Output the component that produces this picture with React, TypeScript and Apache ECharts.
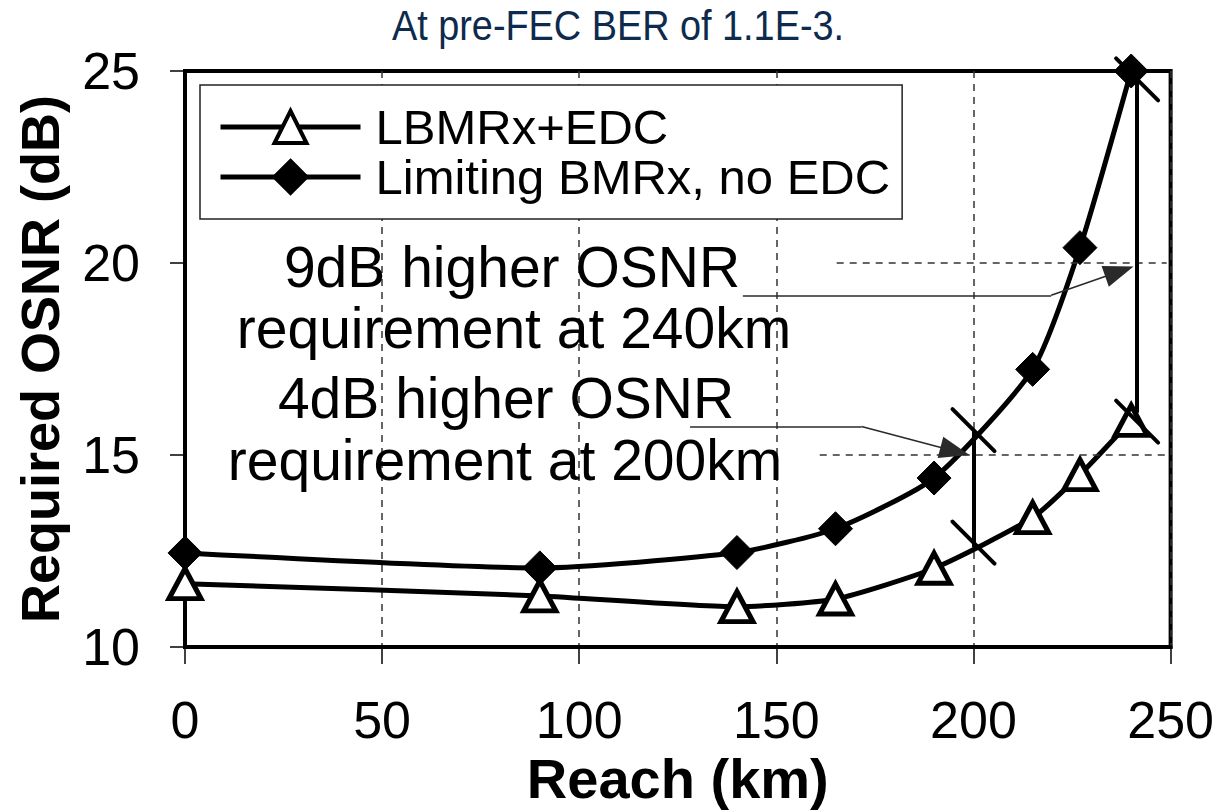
import React, { useEffect, useRef } from "react";
import * as echarts from "echarts";

// ---- data ----
const reachKm = [0, 90, 140, 165, 190, 215, 227, 240];
const lbmrxEdc = [11.65, 11.33, 11.05, 11.25, 12.05, 13.37, 14.49, 15.9];
const limitingNoEdc = [12.45, 12.06, 12.46, 13.08, 14.4, 17.23, 20.4, 25.0];
const seriesNames = ["LBMRx+EDC", "Limiting BMRx, no EDC"];
const xTicks = { min: 0, max: 250, step: 50 };
const yTicks = { min: 10, max: 25, step: 5 };

// annotation geometry (data units)
const gapLines = [
  [[200, 15.62], [200, 12.6]],
  [[241.5, 25.0], [241.5, 16.1]],
];
const gapSlashCenters = [
  [200, 15.65],
  [200, 12.72],
  [241.5, 24.78],
  [241.5, 15.87],
];
const arrow9dB = [[141.5, 19.16], [219.7, 19.16], [237.0, 19.78]];
const arrow4dB = [[128.1, 15.74], [171.6, 15.74], [195.3, 15.1]];
const partialHGrid = [[165.3, 20], [161, 15]];
const noteLines = [
  "9dB higher OSNR",
  "requirement at 240km",
  "4dB higher OSNR",
  "requirement at 200km",
];
const titleText = "At pre-FEC BER of 1.1E-3.";

const FONT = "'Liberation Sans', Arial, Helvetica, sans-serif";

export default function App() {
  const ref = useRef<HTMLDivElement>(null);

  useEffect(() => {
    if (!ref.current) return;
    const chart = echarts.init(ref.current, undefined, { renderer: "svg" });

    const pts = (ys: number[]) => reachKm.map((x, i) => [x, ys[i]]);

    const gapSegs = gapLines.map(([a, b]) => [{ coord: a }, { coord: b }]);
    const arrowSegs = (a: number[][]) => [
      [{ coord: a[0], symbol: "none" }, { coord: a[1], symbol: "none" }],
      [
        { coord: a[1], symbol: "none" },
        { coord: a[2], symbol: "triangle", symbolSize: [22, 30] },
      ],
    ];
    const hGridSegs = partialHGrid.map(([x0, y]) => [
      { coord: [x0, y] },
      { coord: [xTicks.max - 1, y] },
    ]);

    const noteX = [512, 514, 506, 505];
    const noteY = [267, 328, 398, 460];
    const SL = 21; // half-length of the slash ticks, px

    chart.setOption({
      animation: false,
      backgroundColor: "#fff",
      grid: {
        left: 185,
        right: 45,
        top: 71,
        bottom: 165,
        show: true,
        borderColor: "#000",
        borderWidth: 4,
      },
      graphic: [
        {
          type: "text",
          x: 618,
          y: 25,
          scaleX: 0.88,
          style: {
            text: titleText,
            fontSize: 43,
            fontFamily: FONT,
            fill: "#0e2a4c",
            textAlign: "center",
            textVerticalAlign: "middle",
          },
        },
        ...noteLines.map((t, i) => ({
          type: "text",
          x: noteX[i],
          y: noteY[i],
          z: 10,
          style: {
            text: t,
            fontSize: 57,
            fontFamily: FONT,
            fill: "#000",
            textAlign: "center",
            textVerticalAlign: "middle",
          },
        })),
      ],
      legend: {
        orient: "vertical",
        left: 200,
        top: 85,
        backgroundColor: "#fff",
        borderColor: "#222",
        borderWidth: 1.5,
        borderRadius: 0,
        padding: [17, 12, 17, 18],
        itemWidth: 140,
        itemHeight: 40,
        itemGap: 0,
        data: seriesNames,
        lineStyle: { color: "#000", width: 5 },
        itemStyle: { borderWidth: 4 },
        textStyle: {
          fontSize: 49,
          fontFamily: FONT,
          color: "#000",
          lineHeight: 50,
          padding: [0, 0, 0, 10],
        },
      },
      xAxis: {
        type: "value",
        min: xTicks.min,
        max: xTicks.max,
        interval: xTicks.step,
        name: "Reach (km)",
        nameLocation: "middle",
        nameGap: 97,
        nameTextStyle: {
          fontSize: 56,
          fontWeight: "bold",
          fontFamily: FONT,
          color: "#000",
        },
        axisLine: { show: true, lineStyle: { color: "#000", width: 4 } },
        axisTick: { show: true, inside: false, length: 17, lineStyle: { color: "#000", width: 1.5 } },
        axisLabel: { fontSize: 52, fontFamily: FONT, color: "#000", margin: 47 },
        splitLine: {
          show: true,
          lineStyle: { color: "#333", width: 1.5, type: [7, 6] },
        },
      },
      yAxis: {
        type: "value",
        min: yTicks.min,
        max: yTicks.max,
        interval: yTicks.step,
        name: "Required OSNR (dB)",
        nameLocation: "middle",
        nameGap: 118,
        nameTextStyle: {
          fontSize: 54,
          fontWeight: "bold",
          fontFamily: FONT,
          color: "#000",
        },
        axisLine: { show: true, lineStyle: { color: "#000", width: 4 } },
        axisTick: { show: true, inside: false, length: 15, lineStyle: { color: "#000", width: 1.5 } },
        axisLabel: { fontSize: 52, fontFamily: FONT, color: "#000", margin: 45 },
        splitLine: { show: false },
      },
      series: [
        {
          type: "line",
          name: "__grid",
          data: [],
          silent: true,
          z: 1,
          markLine: {
            silent: true,
            symbol: ["none", "none"],
            label: { show: false },
            lineStyle: { color: "#333", width: 1.5, type: [7, 6] },
            emphasis: { disabled: true },
            data: hGridSegs,
          },
        },
        {
          type: "line",
          name: seriesNames[0],
          data: pts(lbmrxEdc),
          smooth: 0.2,
          symbol: "triangle",
          symbolSize: [32, 30],
          showAllSymbol: true,
          lineStyle: { color: "#000", width: 5 },
          itemStyle: { color: "#fff", borderColor: "#000", borderWidth: 5 },
          z: 3,
        },
        {
          type: "line",
          name: seriesNames[1],
          data: pts(limitingNoEdc),
          smooth: 0.2,
          symbol: "diamond",
          symbolSize: [34, 34],
          showAllSymbol: true,
          lineStyle: { color: "#000", width: 5 },
          itemStyle: { color: "#000", borderColor: "#000", borderWidth: 1 },
          z: 4,
        },
        {
          type: "line",
          name: "__gaps",
          data: [],
          silent: true,
          z: 5,
          markLine: {
            silent: true,
            symbol: ["none", "none"],
            label: { show: false },
            lineStyle: { color: "#000", width: 4, type: "solid" },
            emphasis: { disabled: true },
            data: gapSegs,
          },
        },
        {
          type: "custom",
          name: "__slashes",
          data: gapSlashCenters,
          silent: true,
          clip: false,
          z: 6,
          renderItem: (_params: any, api: any) => {
            const p = api.coord([api.value(0), api.value(1)]);
            return {
              type: "line",
              shape: { x1: p[0] - SL, y1: p[1] - SL, x2: p[0] + SL, y2: p[1] + SL },
              style: { stroke: "#000", lineWidth: 4, lineCap: "round" },
            };
          },
        },
        {
          type: "line",
          name: "__arrows",
          data: [],
          silent: true,
          z: 7,
          markLine: {
            silent: true,
            symbol: ["none", "none"],
            label: { show: false },
            lineStyle: { color: "#2a2a2a", width: 1.6, type: "solid" },
            itemStyle: { color: "#000" },
            emphasis: { disabled: true },
            data: [...arrowSegs(arrow9dB), ...arrowSegs(arrow4dB)],
          },
        },
      ],
    });

    return () => chart.dispose();
  }, []);

  return (
    <div
      ref={ref}
      style={{ position: "fixed", left: 0, top: 0, width: 1217, height: 812, background: "#fff" }}
    />
  );
}
